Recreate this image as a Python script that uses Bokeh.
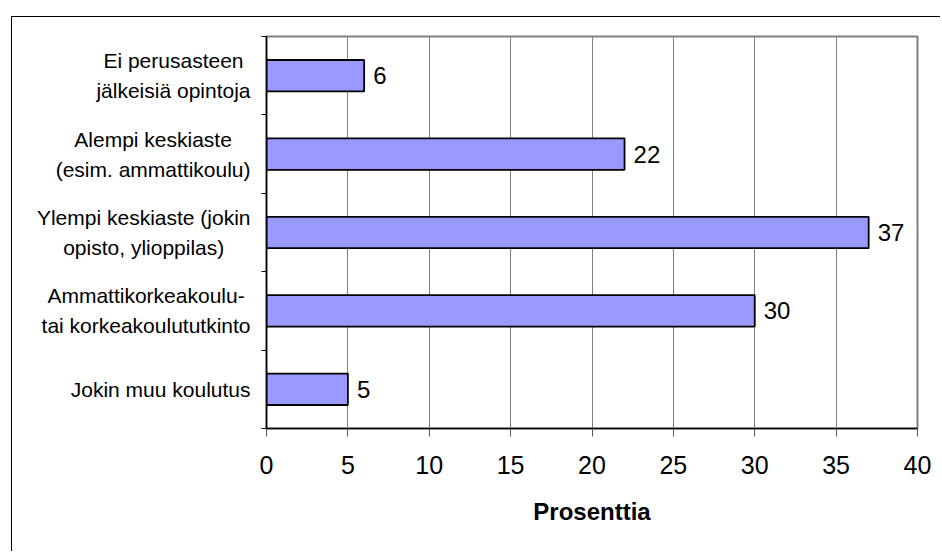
from bokeh.plotting import figure
from bokeh.layouts import row
from bokeh.models import FixedTicker, LabelSet, ColumnDataSource, Range1d
from bokeh.core.properties import value
from bokeh.embed import file_html
from bokeh.resources import INLINE

# ---- data ----
categories = [
    "Ei perusasteen\njälkeisiä opintoja",
    "Alempi keskiaste\n(esim. ammattikoulu)",
    "Ylempi keskiaste (jokin\nopisto, ylioppilas)",
    "Ammattikorkeakoulu-\ntai korkeakoulututkinto",
    "Jokin muu koulutus",
]
values = [6, 22, 37, 30, 5]
x_ticks = [0, 5, 10, 15, 20, 25, 30, 35, 40]
x_title = "Prosenttia"

FONT = "Liberation Sans"
CAT_SIZE = 21
CAT_GAP = 16          # gap between label block and y axis
LW = 246              # width of the label strip
MAIN_LEFT = 8         # room for the boundary ticks
H = 534
TOP, BOTTOM = 19, 123

# Arial / Liberation Sans advance widths (per 1000 em): used to centre each
# multi-line label on its widest line while right-aligning the block
_W = {" ": 278, "(": 333, ")": 333, ",": 278, "-": 333, ".": 278,
      "A": 667, "E": 667, "J": 500, "Y": 667, "a": 556, "e": 556,
      "i": 222, "j": 222, "k": 500, "l": 222, "m": 833, "n": 556,
      "o": 556, "p": 556, "r": 333, "s": 500, "t": 278, "u": 556,
      "y": 500, "ä": 556}


def text_width(s, size):
    return max(sum(_W.get(ch, 556) for ch in line) for line in s.split("\n")) * size / 1000.0


n = len(categories)
ypos = [n - i - 0.5 for i in range(n)]
y_range = Range1d(0, n)

src = ColumnDataSource(dict(y=ypos, v=values, lbl=[str(v) for v in values]))
right_edge = LW + MAIN_LEFT - CAT_GAP
cat_src = ColumnDataSource(dict(
    y=ypos, cat=categories,
    cx=[right_edge - text_width(c, CAT_SIZE) / 2.0 for c in categories],
))

# ---- label strip ----
lab = figure(
    width=LW, height=H, x_range=Range1d(0, LW), y_range=y_range,
    min_border_left=0, min_border_right=0,
    min_border_top=TOP, min_border_bottom=BOTTOM,
    x_axis_location=None, y_axis_location=None,
    output_backend="svg", toolbar_location=None,
    outline_line_color=None,
    background_fill_color="white", border_fill_color="white",
)
lab.grid.visible = False
lab.text(x="cx", y="y", text="cat", source=cat_src,
         text_align="center", text_baseline="middle",
         text_font=value(FONT), text_font_size=value(f"{CAT_SIZE}px"),
         text_line_height=1.3, text_color="black")

# ---- main chart ----
p = figure(
    width=928 - LW, height=H,
    x_range=Range1d(x_ticks[0], x_ticks[-1]), y_range=y_range,
    output_backend="svg", toolbar_location=None,
    min_border_left=MAIN_LEFT, min_border_right=928 - LW - MAIN_LEFT - 651,
    min_border_top=TOP, min_border_bottom=BOTTOM,
    background_fill_color="white", border_fill_color="white",
)

p.hbar(y="y", left=0, right="v", height=0.4, source=src,
       fill_color="#9999FF", line_color="black", line_width=1.8)

p.add_layout(LabelSet(x="v", y="y", text="lbl", source=src, x_offset=9,
                      text_baseline="middle", text_align="left",
                      text_font=value(FONT), text_font_size="24px",
                      text_color="black"))

p.ygrid.grid_line_color = None
p.xgrid.ticker = FixedTicker(ticks=x_ticks)
p.xgrid.grid_line_color = "#808080"
p.xgrid.grid_line_width = 1
p.outline_line_color = "#808080"
p.outline_line_width = 2

xa = p.xaxis[0]
xa.ticker = FixedTicker(ticks=x_ticks)
xa.major_tick_out = 8
xa.major_tick_in = 0
xa.minor_tick_out = 0
xa.minor_tick_in = 0
xa.major_tick_line_color = "#555555"
xa.axis_line_color = "black"
xa.axis_line_width = 1.5
xa.major_label_text_font = FONT
xa.major_label_text_font_size = "25px"
xa.major_label_text_color = "black"
xa.major_label_standoff = 19
xa.axis_label = x_title
xa.axis_label_text_font = FONT
xa.axis_label_text_font_size = "24px"
xa.axis_label_text_font_style = "bold"
xa.axis_label_text_color = "black"
xa.axis_label_standoff = 21

ya = p.yaxis[0]
ya.ticker = FixedTicker(ticks=[], minor_ticks=list(range(n + 1)))
ya.major_tick_out = 0
ya.major_tick_in = 0
ya.minor_tick_out = 5
ya.minor_tick_in = 0
ya.minor_tick_line_color = "black"
ya.axis_line_color = "black"
ya.axis_line_width = 1.5
ya.major_label_text_font_size = "0px"

layout = row(lab, p, margin=(16, 0, 0, 11),
             styles={"border-top": "1px solid #000", "border-left": "1px solid #000"})

open("out.html", "w").write(file_html(layout, INLINE))
